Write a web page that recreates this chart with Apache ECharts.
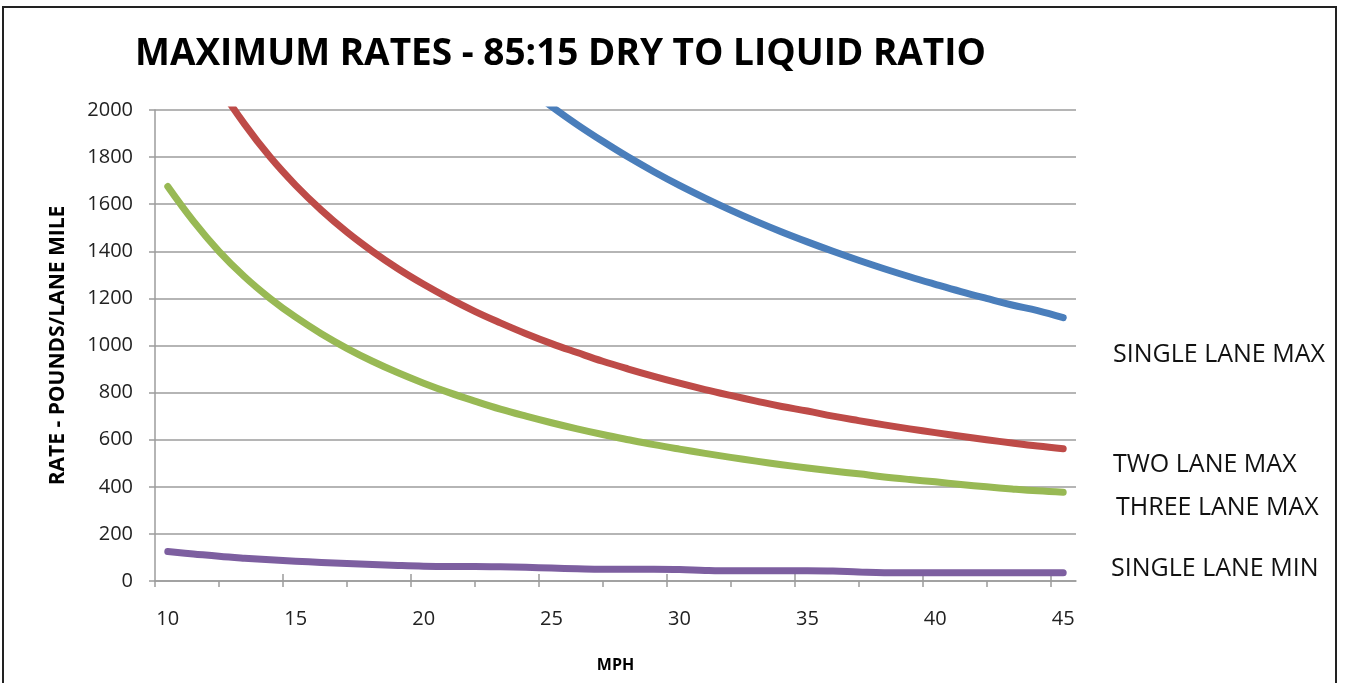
<!DOCTYPE html>
<html>
<head>
<meta charset="utf-8">
<title>Maximum rates</title>
<script src="https://cdn.jsdelivr.net/npm/echarts@6/dist/echarts.min.js"></script>
<style>
  html, body { margin: 0; padding: 0; background: #fff; }
  #chart { width: 1350px; height: 683px; }
</style>
</head>
<body>
<div id="chart"></div>
<script>
// speeds, mph
const mph = [10, 11, 12, 13, 14, 15, 16, 17, 18, 19, 20, 21, 22, 23, 24, 25, 26, 27,
  28, 29, 30, 31, 32, 33, 34, 35, 36, 37, 38, 39, 40, 41, 42, 43, 44, 45];

// pounds / lane mile (above 2000 is off the chart)
const singleLaneMax = [5040, 4580, 4200, 3880, 3600, 3360, 3150, 2965, 2800, 2650, 2520, 2400,
  2290, 2190, 2100, 2015, 1938, 1867, 1800, 1738, 1680, 1626, 1575, 1527, 1482, 1440,
  1400, 1362, 1326, 1292, 1260, 1229, 1200, 1172, 1148, 1118];
const twoLaneMax = [2520, 2290, 2100, 1940, 1800, 1680, 1575, 1482, 1400, 1326, 1260, 1200,
  1145, 1096, 1050, 1008, 970, 933, 900, 869, 840, 813, 788, 764, 741, 722,
  700, 681, 663, 646, 630, 615, 600, 586, 573, 562];
const threeLaneMax = [1675, 1528, 1400, 1292, 1200, 1120, 1050, 988, 933, 884, 840, 800,
  764, 730, 700, 672, 646, 622, 600, 579, 560, 542, 525, 509, 494, 480,
  467, 455, 442, 431, 421, 410, 400, 391, 383, 377];
const singleLaneMin = [125, 115, 105, 97, 90, 84, 79, 74, 70, 66, 63, 62,
  62, 60, 58, 55, 52, 50, 50, 50, 49, 45, 43, 43, 43, 43,
  42, 38, 35, 35, 35, 35, 35, 35, 35, 35];

const xTicks = [9.5, 12, 14.5, 17, 19.5, 22, 24.5, 27, 29.5, 32, 34.5, 37, 39.5, 42, 44.5];
const xMajorTicks = [14.5, 19.5, 24.5, 29.5, 34.5, 39.5, 44.5];
const xLabels = [10, 15, 20, 25, 30, 35, 40, 45];

const seriesNames = ['SINGLE LANE MAX', 'TWO LANE MAX', 'THREE LANE MAX', 'SINGLE LANE MIN'];
const seriesData = [singleLaneMax, twoLaneMax, threeLaneMax, singleLaneMin];
const colors = ['#4A7EBB', '#BE4B48', '#98B954', '#7D5FA0'];

const chart = echarts.init(document.getElementById('chart'));

const gridColor = '#9c9c9c';
const font = '"Open Sans", "Noto Sans", sans-serif';

const option = {
    animation: false,
    color: colors,
    title: {
        text: 'MAXIMUM RATES - 85:15 DRY TO LIQUID RATIO',
        left: 130,
        top: 31,
        textStyle: {
            fontFamily: font,
            fontWeight: 'bold',
            fontSize: 37,
            color: '#000'
        }
    },
    grid: {
        left: 155,
        right: 274,
        top: 110,
        bottom: 102
    },
    xAxis: [
        {
            type: 'value',
            min: 9.5,
            max: 45.5,
            name: 'MPH',
            nameLocation: 'middle',
            nameGap: 76,
            nameTextStyle: {
                fontFamily: font,
                fontWeight: 'bold',
                fontSize: 16,
                color: '#000',
                verticalAlign: 'top'
            },
            axisLine: { lineStyle: { color: gridColor, width: 1.5 } },
            axisTick: {
                length: 6,
                customValues: xTicks,
                lineStyle: { color: gridColor, width: 1.5 }
            },
            axisLabel: {
                customValues: xLabels,
                margin: 28,
                fontFamily: font,
                fontSize: 20,
                color: '#222'
            },
            splitLine: { show: false }
        },
        {
            // upper half of the crossing major ticks
            type: 'value',
            min: 9.5,
            max: 45.5,
            position: 'bottom',
            axisLine: { show: false },
            axisTick: {
                inside: true,
                length: 7,
                customValues: xMajorTicks,
                lineStyle: { color: gridColor, width: 1.5 }
            },
            axisLabel: { show: false },
            splitLine: { show: false }
        }
    ],
    yAxis: {
        type: 'value',
        min: 0,
        max: 2000,
        interval: 200,
        name: 'RATE - POUNDS/LANE MILE',
        nameLocation: 'middle',
        nameGap: 86,
        nameTextStyle: {
            fontFamily: font,
            fontWeight: 'bold',
            fontSize: 21,
            color: '#000'
        },
        axisLine: { show: true, lineStyle: { color: gridColor, width: 1.5 } },
        axisTick: { show: true, length: 6, lineStyle: { color: gridColor, width: 1.5 } },
        axisLabel: {
            margin: 22,
            fontFamily: font,
            fontSize: 20,
            color: '#222',
            formatter: v => String(v)
        },
        splitLine: { lineStyle: { color: gridColor, width: 1.5 } }
    },
    series: seriesData.map((data, i) => ({
        name: seriesNames[i],
        type: 'line',
        smooth: 0.4,
        symbol: 'none',
        clip: true,
        lineStyle: { width: 7, cap: 'round', join: 'round' },
        data: data.map((v, j) => [mph[j], v])
    })),
    graphic: [
        {
            type: 'rect',
            shape: { x: 3, y: 7, width: 1333, height: 700 },
            style: { fill: 'none', stroke: '#222', lineWidth: 2 },
            silent: true
        },
        { type: 'text', left: 1113, top: 342, style: { text: seriesNames[0], font: '25px ' + font, fill: '#111' } },
        { type: 'text', left: 1113, top: 452, style: { text: seriesNames[1], font: '25px ' + font, fill: '#111' } },
        { type: 'text', left: 1116, top: 495, style: { text: seriesNames[2], font: '25px ' + font, fill: '#111' } },
        { type: 'text', left: 1111, top: 556, style: { text: seriesNames[3], font: '25px ' + font, fill: '#111' } }
    ]
};

chart.setOption(option);
</script>
</body>
</html>
